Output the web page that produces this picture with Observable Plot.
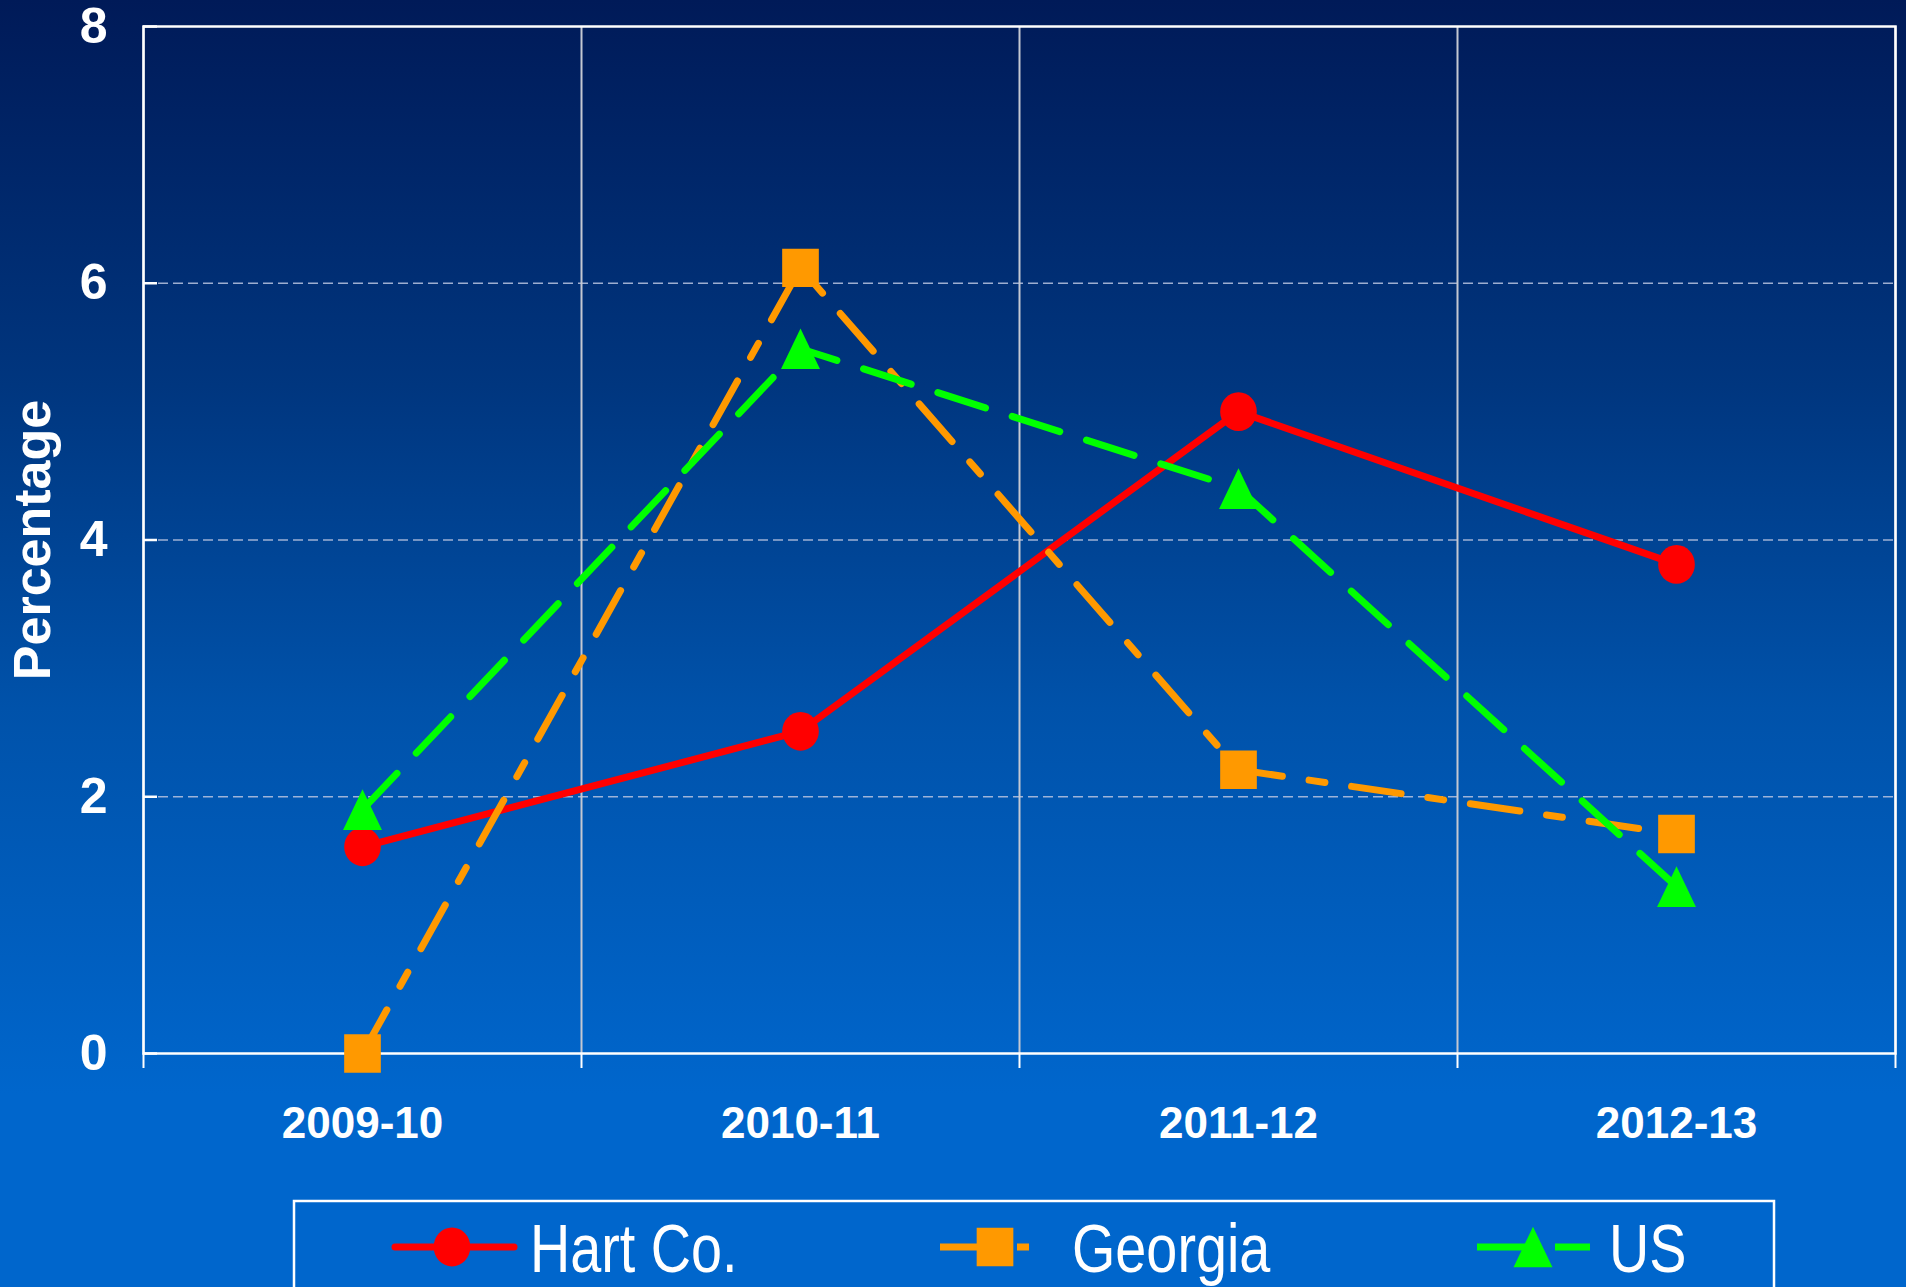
<!DOCTYPE html>
<html>
<head>
<meta charset="utf-8">
<script src="https://cdn.jsdelivr.net/npm/d3@7"></script>
<script src="https://cdn.jsdelivr.net/npm/@observablehq/plot@0.6"></script>
<style>
  html, body { margin: 0; padding: 0; width: 1906px; height: 1287px; overflow: hidden; }
  body {
    background: linear-gradient(to bottom, #001a58 0%, #00367f 30%, #0052aa 55%, #0066cc 85%, #0066cc 100%);
  }
  #chart svg { display: block; }
  #legend { display: block; }
</style>
</head>
<body>
<div id="chart"></div>
<svg id="legend" width="1906" height="88"></svg>
<script>
// ---- data ----
const categories = ["2009-10", "2010-11", "2011-12", "2012-13"];
const seriesNames = ["Hart Co.", "Georgia", "US"];
const hartCo  = [1.61, 2.51, 5.00, 3.81];
const georgia = [0.00, 6.12, 2.21, 1.71];
const us      = [1.90, 5.49, 4.40, 1.30];
const yTicks = [0, 2, 4, 6, 8];
const yGridTicks = [2, 4, 6];

// ---- styles ----
const seriesColors = ["#ff0000", "#ff9900", "#00ff00"];
const seriesDashes = [null, "50,27,16,27", "50,28"];

// custom marker shapes (slightly taller than wide, as in the original)
const ellipseSym = {
  draw(ctx, size) {
    const r = Math.sqrt(size / Math.PI), rx = 0.965 * r, ry = 1.02 * r, k = 0.5523;
    ctx.moveTo(rx, 0);
    ctx.bezierCurveTo(rx, ry * k, rx * k, ry, 0, ry);
    ctx.bezierCurveTo(-rx * k, ry, -rx, ry * k, -rx, 0);
    ctx.bezierCurveTo(-rx, -ry * k, -rx * k, -ry, 0, -ry);
    ctx.bezierCurveTo(rx * k, -ry, rx, -ry * k, rx, 0);
    ctx.closePath();
  }
};
const squareSym = {
  draw(ctx, size) {
    const r = Math.sqrt(size / Math.PI), w = 1.93 * r, h = 2.02 * r;
    ctx.rect(-w / 2, -h / 2, w, h);
  }
};
const triangleSym = {
  draw(ctx, size) {
    const r = Math.sqrt(size / Math.PI), w = 2.05 * r, h = 2.14 * r;
    ctx.moveTo(0, -h / 2);
    ctx.lineTo(w / 2, h / 2);
    ctx.lineTo(-w / 2, h / 2);
    ctx.closePath();
  }
};
const seriesSymbols = [ellipseSym, squareSym, triangleSym];
const markerR = 19;

const seriesValues = [hartCo, georgia, us];
const nCat = categories.length;
const boundaries = d3.range(nCat + 1).map(i => i - 0.5);

const seriesMarks = seriesNames.flatMap((name, s) => {
  const rows = categories.map((c, i) => ({i, value: seriesValues[s][i], name}));
  return [
    Plot.line(rows, {
      x: "i", y: "value", stroke: seriesColors[s], strokeWidth: 7,
      strokeDasharray: seriesDashes[s] ?? undefined, strokeLinejoin: "round"
    }),
    Plot.dot(rows, {
      x: "i", y: "value", r: markerR, symbol: seriesSymbols[s],
      fill: seriesColors[s], stroke: "none"
    })
  ];
});

const plotH = 1199;
const chartSvg = Plot.plot({
  width: 1906,
  height: plotH,
  marginLeft: 143,
  marginRight: 11,
  marginTop: 26,
  marginBottom: plotH - 1053,
  x: {domain: [-0.5, nCat - 0.5]},
  y: {domain: [0, 8]},
  style: {
    background: "transparent",
    color: "white",
    fontFamily: "'Liberation Sans', Arial, sans-serif",
    fontWeight: "bold",
    overflow: "visible"
  },
  marks: [
    Plot.gridY({ticks: yGridTicks, stroke: "#b8c4e0", strokeOpacity: 0.85, strokeWidth: 1.5, strokeDasharray: "10,5"}),
    Plot.gridX({ticks: boundaries, stroke: "#c4c8d2", strokeOpacity: 1, strokeWidth: 2}),
    Plot.frame({stroke: "white", strokeWidth: 2.5}),
    Plot.axisY({ticks: yTicks, tickSize: 14, dx: 14, tickFormat: () => "", stroke: "white", strokeWidth: 2.5, label: null}),
    Plot.axisY({ticks: yTicks, tickSize: 0, tickPadding: 36, fontSize: 50, fill: "white", label: null}),
    Plot.axisX({ticks: boundaries, tickSize: 15, tickFormat: () => "", stroke: "white", strokeWidth: 2, label: null}),
    Plot.axisX({ticks: d3.range(nCat), tickSize: 0, tickPadding: 53, tickFormat: i => categories[i], fontSize: 44, fill: "white", label: null}),
    Plot.text(["Percentage"], {frameAnchor: "left", textAnchor: "middle", lineAnchor: "middle", rotate: -90, dx: -110, fontSize: 52, fontWeight: "bold", fill: "white"}),
    ...seriesMarks
  ]
});
document.getElementById("chart").append(chartSvg);

// ---- legend (below the chart) ----
const leg = d3.select("#legend");
const legTop = 1199; // page y of the legend svg
leg.append("rect")
  .attr("x", 294).attr("y", 1201 - legTop)
  .attr("width", 1480).attr("height", 200)
  .attr("fill", "none").attr("stroke", "white").attr("stroke-width", 2.5);

const legendLineX = [[395, 514], [940, 1029], [1477, 1590]];
const legendMarkerX = [452, 995, 1533];
const legendTextX = [530, 1072, 1609];
const legendY = 1247 - legTop;
seriesNames.forEach((name, s) => {
  leg.append("line")
    .attr("x1", legendLineX[s][0]).attr("x2", legendLineX[s][1])
    .attr("y1", legendY).attr("y2", legendY)
    .attr("stroke", seriesColors[s]).attr("stroke-width", 7)
    .attr("stroke-linecap", s === 0 ? "round" : "butt")
    .attr("stroke-dasharray", seriesDashes[s]);
  leg.append("path")
    .attr("transform", `translate(${legendMarkerX[s]},${legendY})`)
    .attr("d", d3.symbol(seriesSymbols[s], Math.PI * markerR * markerR)())
    .attr("fill", seriesColors[s]);
  leg.append("text")
    .attr("transform", `translate(${legendTextX[s]},${1272 - legTop}) scale(0.82,1)`)
    .attr("fill", "white")
    .attr("font-family", "'Liberation Sans Narrow', 'Arial Narrow', 'Liberation Sans', Arial, sans-serif")
    .attr("font-size", 68)
    .text(name);
});
</script>
</body>
</html>
